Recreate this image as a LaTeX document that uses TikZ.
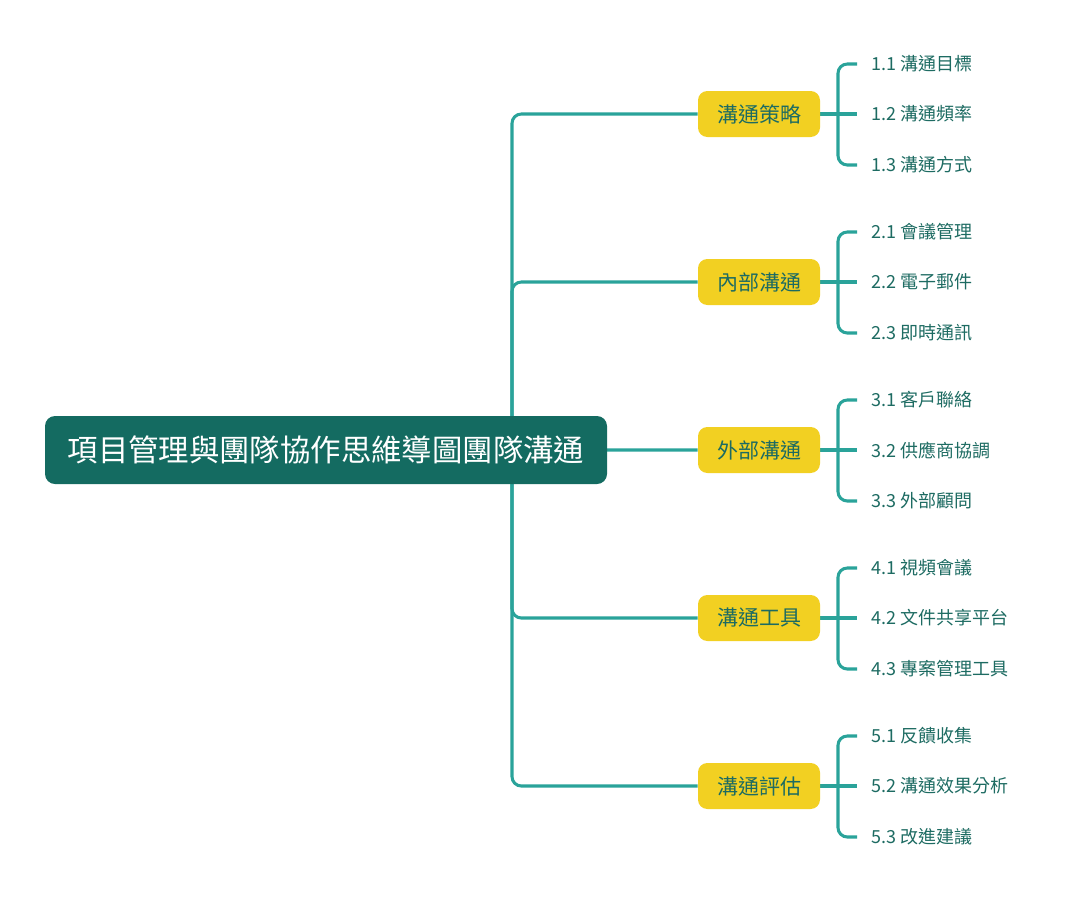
\documentclass[tikz,border=0pt]{standalone}
\usepackage{fontspec}
\setmainfont{Noto Sans CJK TC}
\usetikzlibrary{positioning,calc,backgrounds}
\definecolor{rootfill}{HTML}{146B61}
\definecolor{branch}{HTML}{2AA39A}
\definecolor{topicfill}{HTML}{F2D022}
\definecolor{inktext}{HTML}{1D6B62}

\tikzset{
  rootbox/.style={fill=rootfill, rounded corners=7.5pt, text=white, minimum width=421.5pt, minimum height=51pt, font=\fontsize{22.8}{27}\selectfont},
  topic/.style={fill=topicfill, rounded corners=7pt, text=inktext, minimum width=91.5pt, minimum height=34.5pt, font=\fontsize{15.75}{19}\selectfont},
  leaf/.style={anchor=west, text=inktext, inner xsep=10.5pt, inner ysep=0pt, font=\fontsize{13.5}{16}\selectfont},
  link/.style={draw=branch, line width=2.3pt, rounded corners=7pt}
}

\begin{document}
\begin{tikzpicture}[x=0.75pt,y=-0.75pt]
  \useasboundingbox (0,0) rectangle (1072,915);
  % central topic
  \node[rootbox] (root) at (326,450) {項目管理與團隊協作思維導圖團隊溝通};
  \coordinate (spine) at (512,450);
  % main branches
  \foreach \i/\topic in {1/溝通策略,2/內部溝通,3/外部溝通,4/溝通工具,5/溝通評估}{
    \pgfmathsetmacro{\cy}{114+168*(\i-1)}
    \node[topic] (t\i) at (759,\cy) {\topic};
    \coordinate (fork\i) at (838,\cy);
  }
  % sub topics
  \foreach \i/\a/\b/\c in {1/{1.1 溝通目標}/{1.2 溝通頻率}/{1.3 溝通方式},
                           2/{2.1 會議管理}/{2.2 電子郵件}/{2.3 即時通訊},
                           3/{3.1 客戶聯絡}/{3.2 供應商協調}/{3.3 外部顧問},
                           4/{4.1 視頻會議}/{4.2 文件共享平台}/{4.3 專案管理工具},
                           5/{5.1 反饋收集}/{5.2 溝通效果分析}/{5.3 改進建議}}{
    \node[leaf] (l\i-1) at ($(fork\i)+(19,-50)$) {\a};
    \node[leaf] (l\i-2) at ($(fork\i)+(19,0)$) {\b};
    \node[leaf] (l\i-3) at ($(fork\i)+(19,51)$) {\c};
  }
  % connectors
  \begin{scope}[on background layer]
    \foreach \i in {1,...,5}{
      \draw[link] (spine) |- (t\i.west);
      \draw[link] (t\i.east) -- (fork\i);
      \draw[link] (l\i-1.west) -| (fork\i) |- (l\i-3.west);
      \draw[link] (fork\i) -- (l\i-2.west);
    }
  \end{scope}
\end{tikzpicture}
\end{document}
